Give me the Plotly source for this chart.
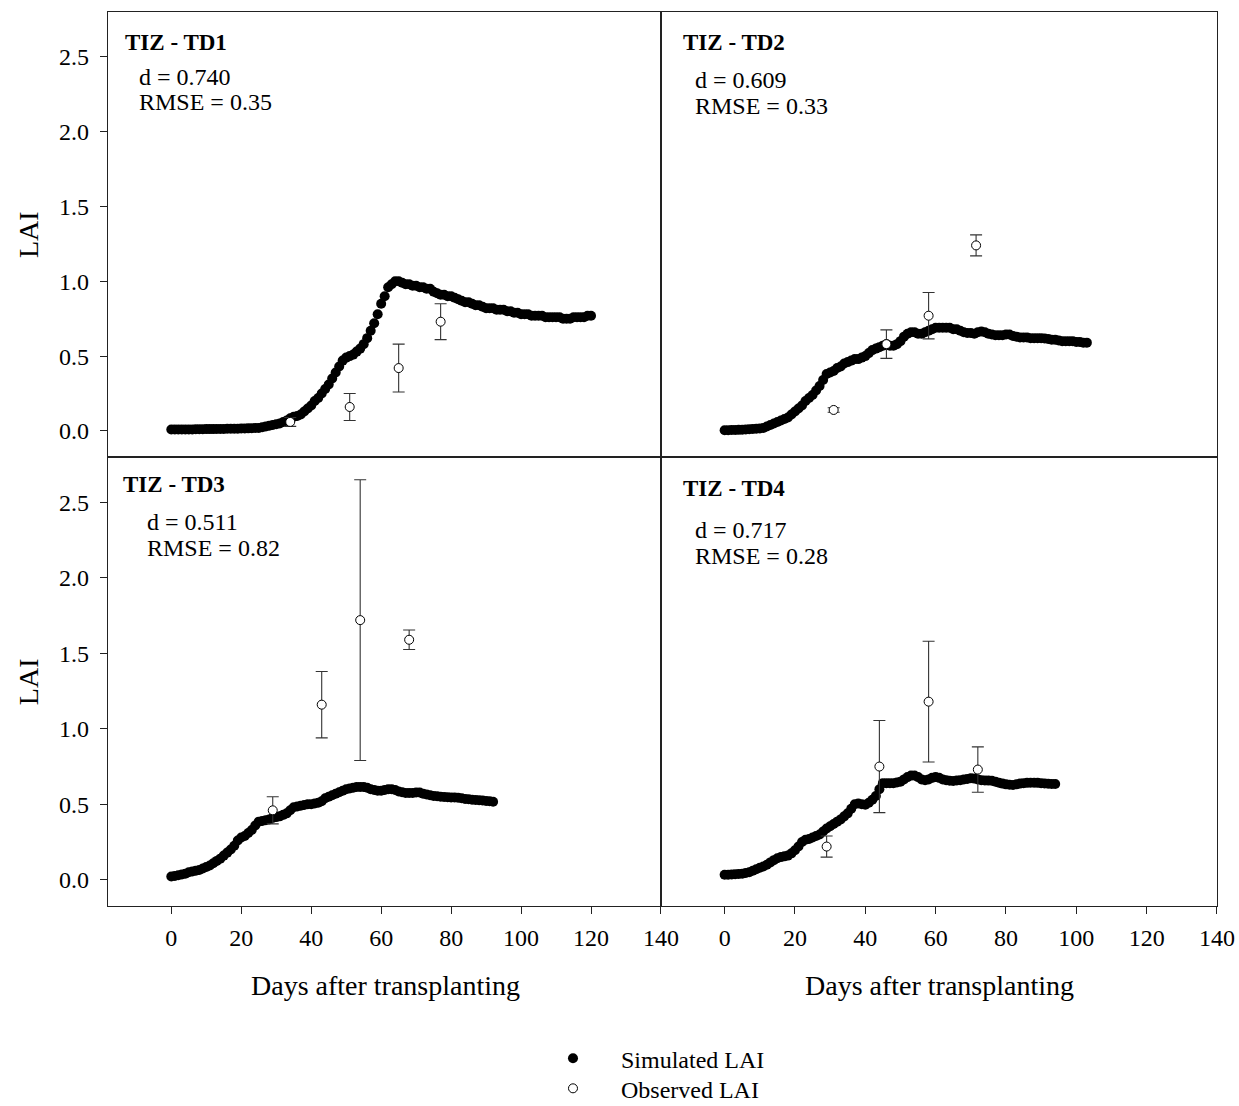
import plotly.graph_objects as go

# ---------------- data ----------------
# Simulated LAI (daily, starting at day 0)
sim_td1 = [0.010, 0.010, 0.010, 0.010, 0.010, 0.010, 0.010, 0.011, 0.011, 0.011,
           0.012, 0.012, 0.012, 0.013, 0.013, 0.013, 0.014, 0.014, 0.015, 0.015,
           0.016, 0.016, 0.017, 0.018, 0.019, 0.020, 0.025, 0.030, 0.035, 0.040,
           0.045, 0.050, 0.060, 0.070, 0.085, 0.095, 0.100, 0.110, 0.130, 0.150,
           0.170, 0.200, 0.220, 0.250, 0.280, 0.310, 0.350, 0.390, 0.430, 0.470,
           0.490, 0.500, 0.510, 0.530, 0.550, 0.580, 0.620, 0.670, 0.720, 0.780,
           0.850, 0.900, 0.960, 0.980, 1.000, 1.000, 0.990, 0.980, 0.980, 0.970,
           0.970, 0.960, 0.960, 0.950, 0.950, 0.930, 0.920, 0.910, 0.910, 0.900,
           0.900, 0.890, 0.880, 0.870, 0.860, 0.860, 0.850, 0.840, 0.840, 0.830,
           0.820, 0.820, 0.820, 0.810, 0.810, 0.810, 0.800, 0.800, 0.790, 0.790,
           0.780, 0.780, 0.780, 0.770, 0.770, 0.770, 0.770, 0.760, 0.760, 0.760,
           0.760, 0.760, 0.750, 0.750, 0.750, 0.760, 0.760, 0.760, 0.760, 0.770,
           0.770]
sim_td2 = [0.005, 0.005, 0.006, 0.006, 0.007, 0.008, 0.010, 0.011, 0.013, 0.015,
           0.016, 0.020, 0.030, 0.040, 0.050, 0.060, 0.070, 0.080, 0.090, 0.110,
           0.130, 0.150, 0.170, 0.200, 0.220, 0.240, 0.270, 0.300, 0.340, 0.380,
           0.390, 0.400, 0.420, 0.430, 0.450, 0.460, 0.470, 0.480, 0.480, 0.490,
           0.500, 0.520, 0.540, 0.550, 0.560, 0.570, 0.580, 0.570, 0.570, 0.580,
           0.600, 0.630, 0.650, 0.660, 0.660, 0.650, 0.650, 0.660, 0.670, 0.680,
           0.690, 0.690, 0.690, 0.690, 0.690, 0.680, 0.680, 0.670, 0.660, 0.655,
           0.655, 0.650, 0.660, 0.665, 0.660, 0.650, 0.645, 0.640, 0.640, 0.640,
           0.645, 0.645, 0.635, 0.630, 0.625, 0.625, 0.625, 0.620, 0.620, 0.620,
           0.620, 0.618, 0.615, 0.610, 0.610, 0.605, 0.600, 0.600, 0.600, 0.600,
           0.595, 0.595, 0.590, 0.590]
sim_td3 = [0.022, 0.025, 0.030, 0.035, 0.040, 0.050, 0.055, 0.060, 0.065, 0.075,
           0.085, 0.095, 0.110, 0.125, 0.140, 0.160, 0.180, 0.200, 0.225, 0.260,
           0.280, 0.290, 0.310, 0.330, 0.360, 0.385, 0.390, 0.395, 0.400, 0.410,
           0.415, 0.420, 0.430, 0.440, 0.460, 0.480, 0.485, 0.490, 0.495, 0.500,
           0.500, 0.505, 0.510, 0.520, 0.540, 0.550, 0.560, 0.570, 0.580, 0.590,
           0.600, 0.605, 0.610, 0.615, 0.615, 0.615, 0.610, 0.600, 0.595, 0.590,
           0.590, 0.595, 0.600, 0.600, 0.595, 0.585, 0.580, 0.575, 0.575, 0.575,
           0.578, 0.578, 0.570, 0.565, 0.560, 0.555, 0.553, 0.550, 0.548, 0.547,
           0.545, 0.545, 0.543, 0.540, 0.535, 0.533, 0.530, 0.528, 0.527, 0.525,
           0.522, 0.520, 0.517]
sim_td4 = [0.033, 0.034, 0.035, 0.036, 0.038, 0.040, 0.045, 0.050, 0.060, 0.070,
           0.080, 0.088, 0.100, 0.115, 0.130, 0.143, 0.150, 0.155, 0.160, 0.175,
           0.195, 0.220, 0.250, 0.265, 0.270, 0.280, 0.290, 0.300, 0.320, 0.340,
           0.355, 0.370, 0.385, 0.400, 0.420, 0.440, 0.470, 0.500, 0.505, 0.500,
           0.497, 0.510, 0.530, 0.555, 0.600, 0.640, 0.640, 0.640, 0.640, 0.645,
           0.650, 0.665, 0.680, 0.690, 0.690, 0.680, 0.665, 0.660, 0.665, 0.675,
           0.680, 0.675, 0.665, 0.660, 0.656, 0.655, 0.658, 0.660, 0.664, 0.668,
           0.672, 0.670, 0.665, 0.660, 0.658, 0.657, 0.656, 0.650, 0.643, 0.637,
           0.632, 0.630, 0.628, 0.632, 0.637, 0.640, 0.642, 0.643, 0.643, 0.642,
           0.640, 0.638, 0.636, 0.635, 0.634]

# Observed LAI (day, mean, error)
obs_days_td1 = [34, 51, 65, 77]
obs_lai_td1 = [0.06, 0.16, 0.42, 0.73]
obs_err_td1 = [0.03, 0.09, 0.16, 0.12]

obs_days_td2 = [31, 46, 58, 71.5]
obs_lai_td2 = [0.14, 0.58, 0.77, 1.24]
obs_err_td2 = [0.015, 0.095, 0.155, 0.07]

obs_days_td3 = [29, 43, 54, 68]
obs_lai_td3 = [0.46, 1.16, 1.72, 1.59]
obs_err_td3 = [0.09, 0.22, 0.93, 0.065]

obs_days_td4 = [29, 44, 58, 72]
obs_lai_td4 = [0.22, 0.75, 1.18, 0.73]
obs_err_td4 = [0.07, 0.305, 0.40, 0.15]

panel_titles = ["TIZ - TD1", "TIZ - TD2", "TIZ - TD3", "TIZ - TD4"]
d_values = ["0.740", "0.609", "0.511", "0.717"]
rmse_values = ["0.35", "0.33", "0.82", "0.28"]

x_ticks = [0, 20, 40, 60, 80, 100, 120, 140]
y_ticks = [0.0, 0.5, 1.0, 1.5, 2.0, 2.5]

# ---------------- figure ----------------
PAGE_W, PAGE_H = 1239, 1106
ZX = 0.9857      # observed screenshot scale, horizontal
ZY = 0.9998      # observed screenshot scale, vertical
W = 1257
H = 1122
FONT = "Liberation Serif"


def px(x):
    return (x / ZX) / W


def py(y):
    return 1 - (y / ZY) / H


sims = [sim_td1, sim_td2, sim_td3, sim_td4]
obs = [(obs_days_td1, obs_lai_td1, obs_err_td1),
       (obs_days_td2, obs_lai_td2, obs_err_td2),
       (obs_days_td3, obs_lai_td3, obs_err_td3),
       (obs_days_td4, obs_lai_td4, obs_err_td4)]

fig = go.Figure()
axis_ids = ["", "2", "3", "4"]
for i in range(4):
    a = axis_ids[i]
    fig.add_trace(go.Scatter(
        x=list(range(len(sims[i]))), y=sims[i], mode="markers",
        marker=dict(color="black", size=10, line=dict(width=0)),
        name="Simulated LAI", legend="legend", showlegend=(i == 0),
        xaxis="x" + a, yaxis="y" + a))
for i in range(4):
    a = axis_ids[i]
    d, v, e = obs[i]
    fig.add_trace(go.Scatter(
        x=d, y=v, mode="markers",
        marker=dict(color="white", size=9, symbol="circle",
                    line=dict(color="black", width=1)),
        error_y=dict(type="data", array=e, visible=True, color="#333333",
                     thickness=1.1, width=6),
        name="Observed LAI", legend="legend2", showlegend=(i == 0),
        xaxis="x" + a, yaxis="y" + a))

# panel geometry (reference pixels)
xl = (108, 661)
xr = (661, 1217)
yt = (12, 457)
yb = (457, 906)


def xd(p):
    return [px(p[0]), px(p[1])]


def yd(p):
    return [py(p[1]), py(p[0])]


XR = [-18.1, 140]
YR = [-0.175, 2.80]

common = dict(showline=True, mirror=True, linecolor="#222222", linewidth=1.3,
              showgrid=False, zeroline=False,
              tickfont=dict(family=FONT, size=24, color="black"))


def xaxis(dom, labels, anchor):
    d = dict(common, domain=xd(dom), range=XR, anchor=anchor, tickvals=x_ticks)
    if labels:
        d.update(ticks="outside", ticklen=7, tickwidth=1.2, tickcolor="#222222",
                 showticklabels=True, ticklabelstandoff=3)
    else:
        d.update(ticks="", showticklabels=False)
    return d


def yaxis(dom, labels, anchor):
    d = dict(common, domain=yd(dom), range=YR, anchor=anchor, tickvals=y_ticks,
             tickformat=".1f")
    if labels:
        d.update(ticks="outside", ticklen=7, tickwidth=1.2, tickcolor="#222222",
                 showticklabels=True, ticklabelstandoff=6)
    else:
        d.update(ticks="", showticklabels=False)
    return d


annotations = []
text_pos = [  # (title x,y), (stats x, d y, rmse y)  in reference pixels
    ((123, 42), (137, 77, 102)),
    ((681, 42), (693, 80, 106)),
    ((121, 484), (145, 522, 548)),
    ((681, 488), (693, 530, 556)),
]
for i in range(4):
    (tx, ty), (sx, dy, ry) = text_pos[i]
    annotations.append(dict(x=px(tx), y=py(ty), xref="paper", yref="paper",
                            xanchor="left", yanchor="middle", showarrow=False,
                            text="<b>" + panel_titles[i] + "</b>",
                            font=dict(family=FONT, size=23, color="black")))
    annotations.append(dict(x=px(sx), y=py(dy), xref="paper", yref="paper",
                            xanchor="left", yanchor="middle", showarrow=False,
                            text="d = " + d_values[i],
                            font=dict(family=FONT, size=24, color="black")))
    annotations.append(dict(x=px(sx), y=py(ry), xref="paper", yref="paper",
                            xanchor="left", yanchor="middle", showarrow=False,
                            text="RMSE = " + rmse_values[i],
                            font=dict(family=FONT, size=24, color="black")))

for yc in (234, 681):
    annotations.append(dict(x=px(28), y=py(yc), xref="paper", yref="paper",
                            xanchor="center", yanchor="middle", showarrow=False,
                            text="LAI", textangle=-90,
                            font=dict(family=FONT, size=28, color="black")))
for xc in (386, 940):
    annotations.append(dict(x=px(xc), y=py(985), xref="paper", yref="paper",
                            xanchor="center", yanchor="middle", showarrow=False,
                            text="Days after transplanting",
                            font=dict(family=FONT, size=28, color="black")))

leg_common = dict(xanchor="left", yanchor="top",
                  font=dict(family=FONT, size=24, color="black"),
                  bgcolor="rgba(0,0,0,0)", itemwidth=86)

fig.update_layout(
    width=W, height=H, margin=dict(l=0, r=0, t=0, b=0),
    paper_bgcolor="white", plot_bgcolor="white",
    showlegend=True,
    legend=dict(leg_common, x=px(525), y=py(1036)),
    legend2=dict(leg_common, x=px(525), y=py(1066)),
    xaxis=xaxis(xl, False, "y"), yaxis=yaxis(yt, True, "x"),
    xaxis2=xaxis(xr, False, "y2"), yaxis2=yaxis(yt, False, "x2"),
    xaxis3=xaxis(xl, True, "y3"), yaxis3=yaxis(yb, True, "x3"),
    xaxis4=xaxis(xr, True, "y4"), yaxis4=yaxis(yb, False, "x4"),
    annotations=annotations,
)

fig.write_html(
    "out.html",
    config={"displayModeBar": False},
    post_script="document.body.style.margin='0';"
                "document.body.style.overflow='hidden';",
)
